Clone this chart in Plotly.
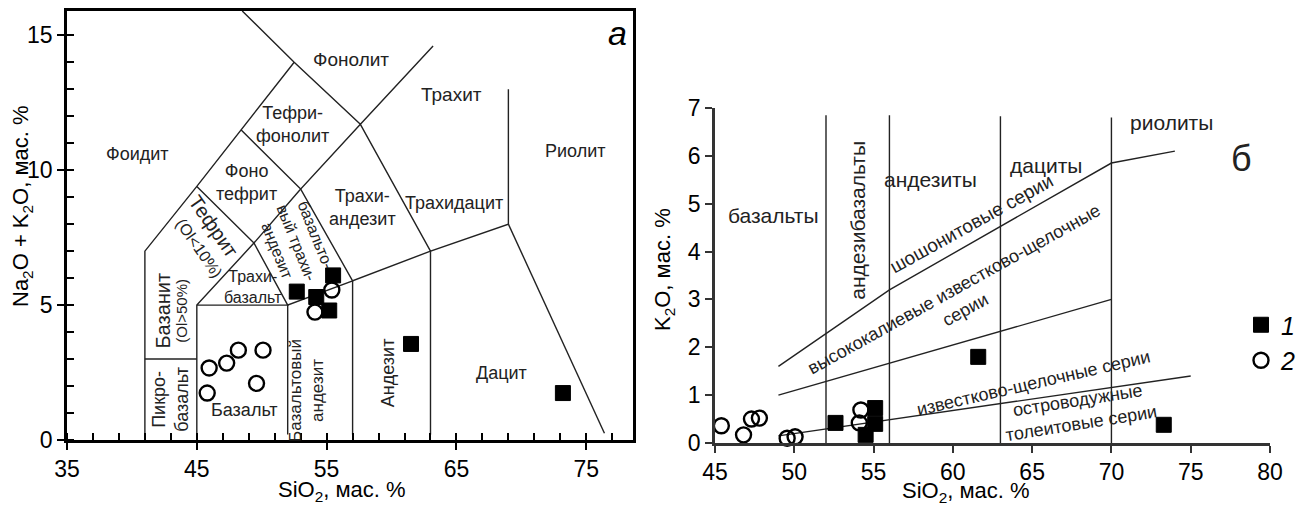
import plotly.graph_objects as go

# ---------------- Data: panel a (TAS) ----------------
tas_sq_x = [52.7, 54.2, 55.5, 55.2, 61.5, 73.2]
tas_sq_y = [5.5, 5.3, 6.1, 4.8, 3.56, 1.74]
tas_ci_x = [45.8, 45.95, 47.3, 48.2, 50.1, 49.6, 54.1, 55.4]
tas_ci_y = [1.74, 2.67, 2.85, 3.33, 3.33, 2.1, 4.74, 5.56]

tas_lines = [
    [(41, 0.2), (41, 7), (45, 9.4), (48.4, 11.5), (52.5, 14)],
    [(48.5, 15.9), (52.5, 14), (57.6, 11.7), (63.2, 14.6)],
    [(57.6, 11.7), (63, 7), (69, 8), (69, 13)],
    [(69, 8), (76.4, 0.25)],
    [(63, 0.2), (63, 7)],
    [(57, 0.2), (57, 5.9), (63, 7)],
    [(52, 0.2), (52, 5), (57, 5.9), (53, 9.3), (57.6, 11.7)],
    [(45, 0.2), (45, 5), (49.4, 7.3), (52, 5), (45, 5)],
    [(45, 9.4), (49.4, 7.3), (53, 9.3), (48.4, 11.5)],
    [(41, 3), (45, 3)],
]

# label text, x, y, size, angle
tas_labels = [
    ("Фонолит", 56.9, 14.1, 19, 0),
    ("Трахит", 64.6, 12.8, 19, 0),
    ("Риолит", 74.1, 10.7, 18, 0),
    ("Тефри-<br>фонолит", 52.4, 11.7, 18, 0),
    ("Фоидит", 40.4, 10.6, 18, 0),
    ("Фоно<br>тефрит", 48.8, 9.56, 18, 0),
    ("Трахи-<br>андезит", 57.8, 8.6, 18, 0),
    ("Трахидацит", 64.8, 8.8, 18, 0),
    ("Тефрит", 46.3, 7.95, 20, 55),
    ("(Ol&lt;10%)", 45.2, 7.1, 16, 55),
    ("базальто-<br>вый трахи-<br>андезит", 52.7, 7.3, 16, 68),
    ("Трахи-<br>базальт", 49.3, 5.67, 16, 0),
    ("Базанит", 42.4, 4.8, 20, -90),
    ("(Ol&gt;50%)", 43.8, 4.8, 15, -90),
    ("Пикро-<br>базальт", 42.95, 1.5, 18, -90),
    ("Базальт", 48.7, 1.1, 18, 0),
    ("Базальтовый<br>андезит", 53.4, 1.85, 17, -90),
    ("Андезит", 59.7, 2.5, 18, -90),
    ("Дацит", 68.5, 2.5, 18, 0),
]

# ---------------- Data: panel б (K2O–SiO2) ----------------
k_sq_x = [52.6, 55.1, 55.1, 54.5, 61.6, 73.3]
k_sq_y = [0.42, 0.73, 0.40, 0.17, 1.8, 0.38]
k_ci_x = [45.4, 46.8, 47.3, 47.8, 49.55, 50.05, 54.2, 54.1]
k_ci_y = [0.36, 0.17, 0.5, 0.52, 0.1, 0.13, 0.69, 0.42]

k_lines = [
    [(52, 0), (52, 6.85)],
    [(56, 0), (56, 6.85)],
    [(63, 0), (63, 6.83)],
    [(70, 0), (70, 6.8)],
    [(49, 1.6), (56, 3.2), (70, 5.85), (74, 6.1)],
    [(49, 1.0), (70, 3.0)],
    [(49, 0.15), (75, 1.4)],
]

k_labels = [
    ("базальты", 48.7, 4.76, 21, 0),
    ("андезибазальты", 54.0, 4.66, 21, -90),
    ("андезиты", 58.6, 5.5, 21, 0),
    ("дациты", 65.9, 5.8, 21, 0),
    ("риолиты", 73.8, 6.7, 21, 0),
    ("шошонитовые серии", 61.2, 4.58, 19, -29),
    ("высококалиевые известково-щелочные<br>серии", 60.4, 3.0, 18, -29),
    ("известково-щелочные серии", 65.1, 1.25, 18, -13),
    ("островодужные<br>толеитовые серии", 68.0, 0.66, 18, -9),
]

FONT = "Liberation Sans, Arial, sans-serif"
W, H = 1301, 506
LC = "#222222"


def px_x(p):
    return p / W


def px_y(p):
    return 1 - p / H


def seg_xy(lines):
    xs, ys = [], []
    for ln in lines:
        for (a, b) in ln:
            xs.append(a)
            ys.append(b)
        xs.append(None)
        ys.append(None)
    return xs, ys


fig = go.Figure()

lx, ly = seg_xy(tas_lines)
fig.add_trace(go.Scatter(x=lx, y=ly, mode="lines", line=dict(color=LC, width=1.4),
                         xaxis="x", yaxis="y", showlegend=False, hoverinfo="skip"))
kx, ky = seg_xy(k_lines)
fig.add_trace(go.Scatter(x=kx, y=ky, mode="lines", line=dict(color=LC, width=1.4),
                         xaxis="x2", yaxis="y2", showlegend=False, hoverinfo="skip"))

sq_marker = dict(symbol="square", size=15, color="black", line=dict(color="black", width=1))
ci_marker = dict(symbol="circle-open", size=15, color="black", line=dict(color="black", width=2.4))

fig.add_trace(go.Scatter(x=tas_sq_x, y=tas_sq_y, mode="markers", marker=sq_marker,
                         xaxis="x", yaxis="y", showlegend=False, cliponaxis=False))
fig.add_trace(go.Scatter(x=tas_ci_x, y=tas_ci_y, mode="markers", marker=ci_marker,
                         xaxis="x", yaxis="y", showlegend=False, cliponaxis=False))
fig.add_trace(go.Scatter(x=k_sq_x, y=k_sq_y, mode="markers", marker=sq_marker, name="<i>1</i>",
                         xaxis="x2", yaxis="y2", showlegend=True, cliponaxis=False))
fig.add_trace(go.Scatter(x=k_ci_x, y=k_ci_y, mode="markers", marker=ci_marker, name="<i>2</i>",
                         xaxis="x2", yaxis="y2", showlegend=True, cliponaxis=False))

ann = []
for t, x, y, s, a in tas_labels:
    ann.append(dict(text=t, x=x, y=y, xref="x", yref="y", showarrow=False, textangle=a,
                    font=dict(family=FONT, size=s, color=LC)))
for t, x, y, s, a in k_labels:
    ann.append(dict(text=t, x=x, y=y, xref="x2", yref="y2", showarrow=False, textangle=a,
                    font=dict(family=FONT, size=s, color=LC)))

ann.append(dict(text="<i>а</i>", x=77.4, y=15.1, xref="x", yref="y", showarrow=False,
                font=dict(family=FONT, size=34, color="black")))
ann.append(dict(text="б", x=78.2, y=5.95, xref="x2", yref="y2", showarrow=False,
                font=dict(family=FONT, size=36, color="#222")))

title_font = dict(family=FONT, size=22, color="black")
for t, px, py, ang in [
    ("Na<sub>2</sub>O + K<sub>2</sub>O, мас. %", 22, 206, -90),
    ("SiO<sub>2</sub>, мас. %", 342, 491, 0),
    ("K<sub>2</sub>O, мас. %", 664, 270, -90),
    ("SiO<sub>2</sub>, мас. %", 966, 492, 0),
]:
    ann.append(dict(text=t, x=px_x(px), y=px_y(py), xref="paper", yref="paper",
                    xanchor="center", yanchor="middle", showarrow=False, textangle=ang,
                    font=title_font))

tickfont = dict(family=FONT, size=23, color="black")

fig.update_layout(
    width=W, height=H,
    margin=dict(l=0, r=0, t=0, b=0, autoexpand=False),
    paper_bgcolor="white", plot_bgcolor="white",
    annotations=ann,
    showlegend=True,
    legend=dict(x=1.0, y=px_y(302), xanchor="right", yanchor="top",
                font=dict(family=FONT, size=25, color="black"),
                bgcolor="rgba(0,0,0,0)", itemwidth=30, tracegroupgap=4),
    xaxis=dict(domain=[px_x(67), px_x(633)], range=[35, 78.6], showgrid=False, zeroline=False,
               showline=True, linecolor="black", linewidth=2.5, mirror=True, automargin=False,
               tickvals=[35, 45, 55, 65, 75], ticks="outside", ticklen=7, tickwidth=2,
               tickcolor="black", tickfont=tickfont,
               minor=dict(tick0=35, dtick=2, ticks="inside", ticklen=7, tickwidth=2,
                          tickcolor="black", showgrid=False),
               anchor="y"),
    yaxis=dict(domain=[px_y(440), px_y(11)], range=[0, 15.9], showgrid=False, zeroline=False,
               showline=True, linecolor="black", linewidth=2.5, mirror=True, automargin=False,
               tickvals=[0, 5, 10, 15], ticks="outside", ticklen=7, tickwidth=2,
               tickcolor="black", tickfont=tickfont,
               minor=dict(tick0=0, dtick=1, ticks="inside", ticklen=7, tickwidth=2,
                          tickcolor="black", showgrid=False),
               anchor="x"),
    xaxis2=dict(domain=[px_x(715), px_x(1270)], range=[45, 80], showgrid=False, zeroline=False,
                showline=True, linecolor="#333", linewidth=2.5, automargin=False,
                tickvals=[45, 50, 55, 60, 65, 70, 75, 80], ticks="outside", ticklen=7,
                tickwidth=2, tickcolor="#333", tickfont=tickfont, anchor="y2"),
    yaxis2=dict(domain=[px_y(443), px_y(108)], range=[0, 7], showgrid=False, zeroline=False,
                showline=True, linecolor="#333", linewidth=2.5, automargin=False,
                tickvals=[0, 1, 2, 3, 4, 5, 6, 7], ticks="outside", ticklen=7,
                tickwidth=2, tickcolor="#333", tickfont=tickfont, anchor="x2"),
)

fig.write_html("out.html")
